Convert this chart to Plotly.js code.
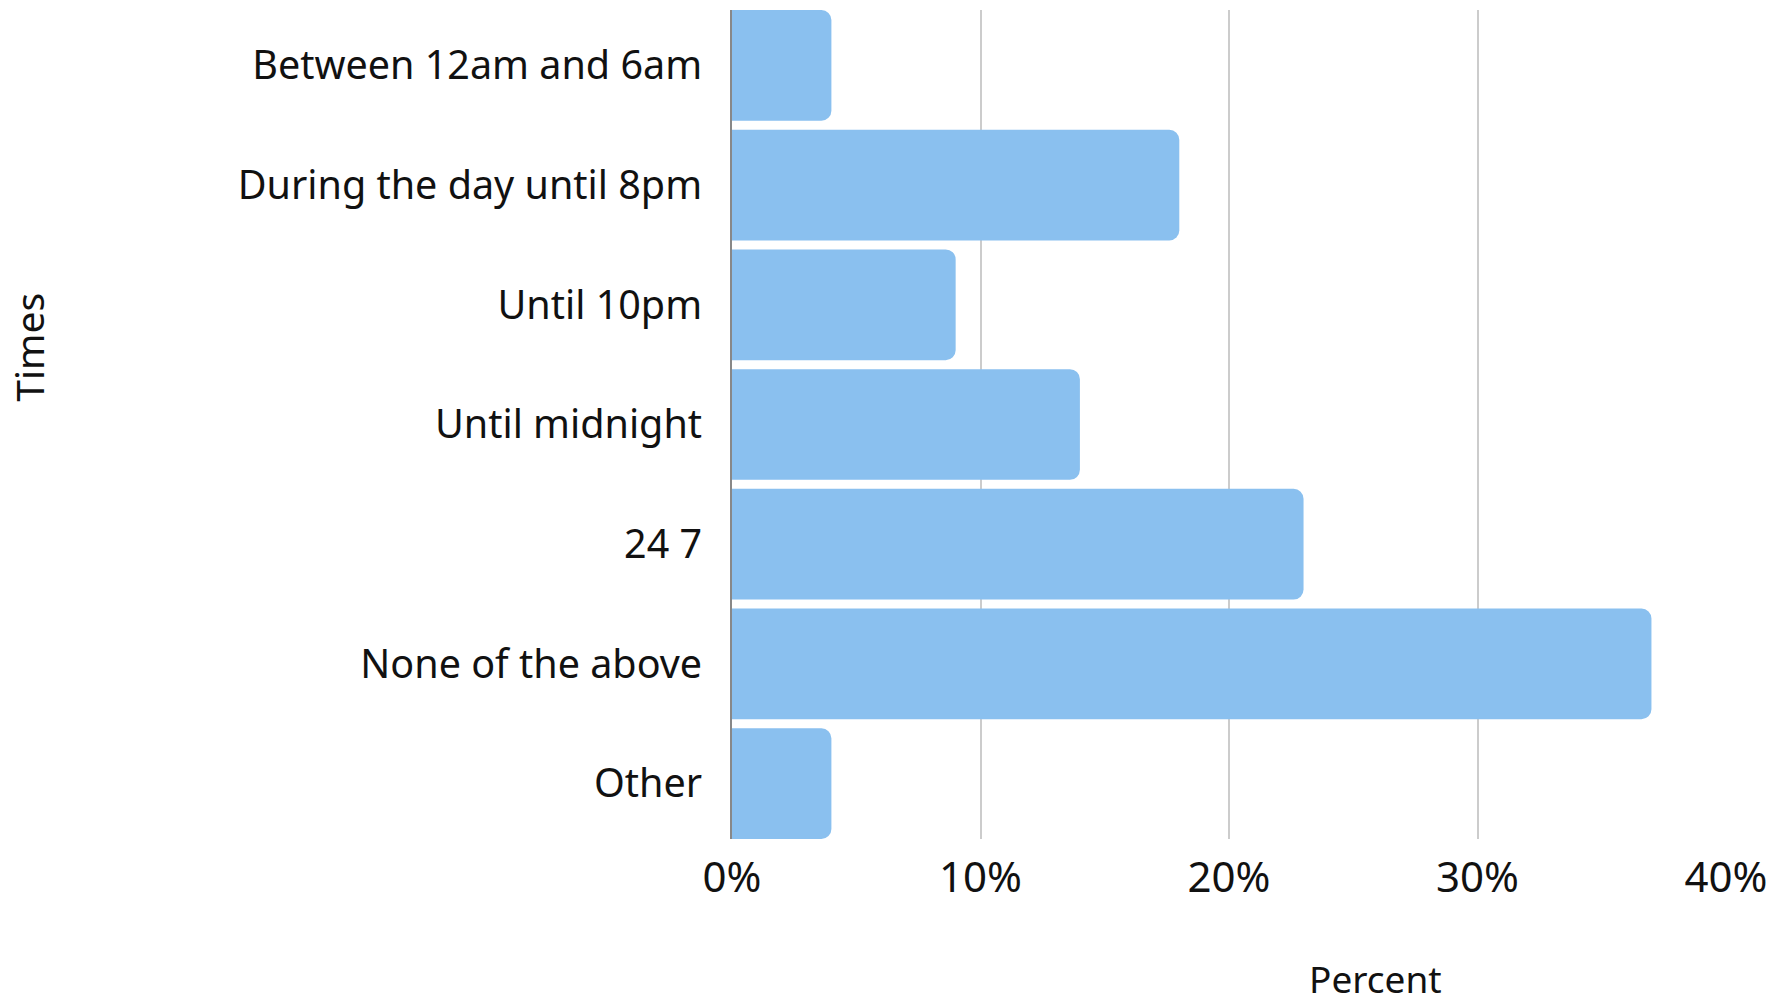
<!DOCTYPE html>
<html>
<head>
<meta charset="utf-8">
<script src="https://cdn.plot.ly/plotly-3.0.1.min.js"></script>
<style>html,body{margin:0;padding:0;background:#fff;}#chart{width:1778px;height:1004px;}</style>
</head>
<body>
<div id="chart"></div>
<script>
const categories = ["Between 12am and 6am", "During the day until 8pm", "Until 10pm", "Until midnight", "24 7", "None of the above", "Other"];
const percents = [4, 18, 9, 14, 23, 37, 4];
const tickValues = [0, 10, 20, 30, 40];
const tickLabels = ["0%", "10%", "20%", "30%", "40%"];

const font = "Noto Sans, sans-serif";
const gap = 0.075;
const trace = {
  type: "bar",
  orientation: "h",
  y: categories,
  x: percents,
  marker: {color: "#8ac0ef", cornerradius: 10},
  hoverinfo: "none"
};
const half = (1 - gap) / 2;
const layout = {
  width: 1778, height: 1004,
  margin: {l: 732, r: 52, t: 10, b: 165},
  paper_bgcolor: "#fff", plot_bgcolor: "#fff",
  bargap: gap,
  showlegend: false,
  font: {family: font, size: 39, color: "#111"},
  xaxis: {
    range: [0, 40],
    tickvals: tickValues, ticktext: tickLabels,
    showgrid: true, gridcolor: "#cccccc", gridwidth: 2,
    zeroline: false, showline: false,
    ticks: "", ticklabelstandoff: 10,
    tickfont: {family: font, size: 42, color: "#111"},
    fixedrange: true
  },
  yaxis: {
    range: [categories.length - 1 + half, -half],
    showline: true, linecolor: "#888", linewidth: 2,
    ticks: "", ticklabelstandoff: 20,
    tickfont: {family: font, size: 39.5, color: "#111"},
    fixedrange: true
  },
  annotations: [
    {text: "Times", xref: "paper", yref: "paper", x: -0.708, y: 0.593, textangle: -90, showarrow: false,
     font: {family: font, size: 39, color: "#111"}, xanchor: "center", yanchor: "middle"},
    {text: "Percent", xref: "paper", yref: "paper", x: 0.647, y: -0.168, showarrow: false,
     font: {family: font, size: 37, color: "#111"}, xanchor: "center", yanchor: "middle"}
  ]
};
Plotly.newPlot("chart", [trace], layout, {displayModeBar: false, staticPlot: true});
</script>
</body>
</html>
